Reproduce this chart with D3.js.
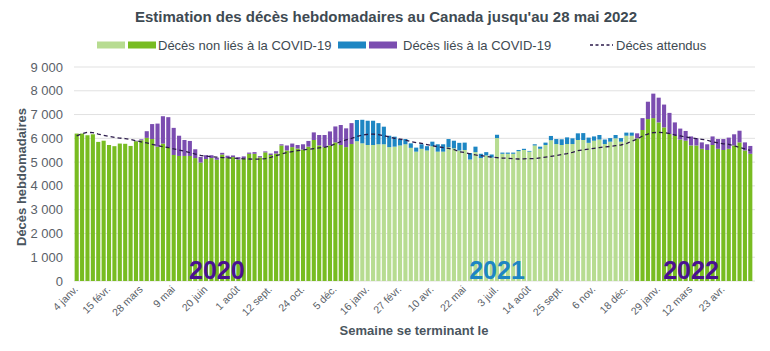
<!DOCTYPE html>
<html>
<head>
<meta charset="utf-8">
<script src="https://cdn.jsdelivr.net/npm/d3@7"></script>
<style>
  body { margin: 0; background: #fff; }
  text { font-family: "Liberation Sans", Arial, sans-serif; }
</style>
</head>
<body>
<div id="chart"></div>
<script>
// weekly deaths, first week ending 4 Jan 2020, last week ending 28 May 2022
const nonCovid = [
  6200, 6200, 6130, 6170, 5850, 5900, 5720, 5670, 5780, 5770, 5680, 5880, 5920, 6020, 5970, 5650,
  5780, 5600, 5300, 5260, 5260, 5260, 5170, 4980, 5130, 5170, 5100, 5320, 5170, 5210, 5110, 5160,
  5350, 5350, 5200, 5410, 5300, 5360, 5700, 5490, 5630, 5570, 5530, 5650, 5930, 5700, 5630, 5700,
  5830, 5720, 5630, 5760, 5880, 5790, 5720, 5720, 5750, 5750, 5630, 5650, 5700, 5750, 5600, 5440,
  5560, 5490, 5670, 5440, 5440, 5630, 5580, 5490, 5510, 5110, 5420, 5170, 5280, 5190, 6010, 5350,
  5350, 5350, 5460, 5510, 5440, 5700, 5560, 5720, 5920, 5760, 5720, 5760, 5760, 5930, 5930, 5810,
  5900, 5950, 5760, 5860, 6000, 5860, 6110, 6110, 6000, 6350, 6810, 6850, 6670, 6460, 6180, 6110,
  5950, 5900, 5700, 5700, 5560, 5510, 5720, 5560, 5510, 5560, 5700, 5830, 5490, 5350
];
const covid = [
  0, 0, 0, 0, 0, 0, 0, 0, 0, 0, 0, 20, 40, 280, 630, 970,
  1150, 1290, 1140, 850, 670, 630, 370, 240, 160, 120, 90, 70, 100, 70, 100, 80,
  50, 70, 50, 40, 60, 100, 50, 210, 150, 150, 220, 240, 320, 440, 510, 590,
  670, 840, 790, 880, 890, 990, 1020, 1020, 890, 740, 480, 420, 270, 220, 190, 170,
  190, 180, 190, 310, 310, 340, 320, 320, 310, 270, 230, 180, 140, 130, 140, 50,
  50, 50, 50, 50, 30, 50, 90, 100, 180, 210, 240, 280, 240, 280, 290, 220,
  180, 190, 190, 150, 140, 150, 130, 130, 210, 500, 730, 1030, 1040, 960, 890, 560,
  460, 410, 380, 300, 270, 240, 360, 410, 460, 470, 470, 490, 340, 330
];
const expected = [
  6100, 6200, 6250, 6240, 6180, 6130, 6080, 6040, 6010, 5990, 5950, 5900, 5850, 5810, 5750, 5690,
  5650, 5610, 5560, 5510, 5460, 5400, 5340, 5280, 5250, 5230, 5210, 5190, 5180, 5170, 5150, 5140,
  5130, 5120, 5130, 5150, 5200, 5270, 5340, 5400, 5440, 5480, 5510, 5540, 5570, 5600, 5620, 5680,
  5770, 5860, 5940, 6000, 6080, 6140, 6170, 6180, 6160, 6110, 6060, 6000, 5970, 5930, 5860, 5820,
  5790, 5740, 5690, 5650, 5610, 5580, 5530, 5440, 5400, 5350, 5300, 5270, 5240, 5210, 5190, 5170,
  5160, 5140, 5130, 5140, 5150, 5150, 5180, 5210, 5240, 5280, 5320, 5360, 5410, 5480, 5520, 5550,
  5580, 5610, 5640, 5660, 5690, 5720, 5780, 5880, 5970, 6100, 6180, 6240, 6250, 6240, 6200, 6140,
  6100, 6060, 6020, 5990, 5960, 5920, 5850, 5810, 5770, 5750, 5690, 5610, 5560, 5490
];
const tickLabels = [
  "4 janv.", "15 févr.", "28 mars", "9 mai", "20 juin", "1 août", "12 sept.", "24 oct.", "5 déc.",
  "16 janv.", "27 févr.", "10 avr.", "22 mai", "3 juil.", "14 août", "25 sept.", "6 nov.", "18 déc.",
  "29 janv.", "12 mars", "23 avr."
];
const yTicks = [0, 1000, 2000, 3000, 4000, 5000, 6000, 7000, 8000, 9000];
const years = [2020, 2021, 2022];

const firstWeek = new Date(2020, 0, 4);
const weeks = nonCovid.map((d, i) => d3.timeDay.offset(firstWeek, 7 * i));

const colors = {
  2020: {base: "#78bc21", covid: "#7b4db0", label: "#4a1190"},
  2021: {base: "#b7dc91", covid: "#1d86c3", label: "#1d86c3"},
  2022: {base: "#78bc21", covid: "#7b4db0", label: "#4a1190"}
};

const width = 770, height = 351;
const margin = {top: 67, right: 17, bottom: 70, left: 74};

const svg = d3.select("#chart")
  .append("svg")
    .attr("width", width)
    .attr("height", height);

const x = d3.scaleBand()
  .domain(d3.range(weeks.length))
  .range([margin.left, width - margin.right])
  .paddingInner(0.24)
  .paddingOuter(0.12);

const y = d3.scaleLinear()
  .domain([0, 9000])
  .range([height - margin.bottom, margin.top]);

const fmt = v => d3.format(",")(v).replace(/,/g, "\u202f");

// grid + y labels
svg.append("g")
  .selectAll("line")
  .data(yTicks)
  .join("line")
    .attr("x1", margin.left)
    .attr("x2", width - margin.right + 2)
    .attr("y1", d => y(d))
    .attr("y2", d => y(d))
    .style("stroke", "#e1e1e1")
    .style("stroke-width", 1);

svg.append("g")
  .selectAll("text")
  .data(yTicks)
  .join("text")
    .attr("x", 63)
    .attr("y", d => y(d))
    .attr("dy", "0.35em")
    .style("text-anchor", "end")
    .style("font-size", "13px")
    .style("fill", "#5a6168")
    .text(d => d === 0 ? "0" : fmt(d).replace("\u202f", " "));

// bars
const bars = svg.append("g");
bars.selectAll(".base")
  .data(weeks)
  .join("rect")
    .attr("class", "base")
    .attr("x", (d, i) => x(i))
    .attr("width", x.bandwidth())
    .attr("y", (d, i) => y(nonCovid[i]))
    .attr("height", (d, i) => y(0) - y(nonCovid[i]))
    .attr("fill", d => colors[d.getFullYear()].base);

bars.selectAll(".covid")
  .data(weeks)
  .join("rect")
    .attr("class", "covid")
    .attr("x", (d, i) => x(i))
    .attr("width", x.bandwidth())
    .attr("y", (d, i) => y(nonCovid[i] + covid[i]))
    .attr("height", (d, i) => y(nonCovid[i]) - y(nonCovid[i] + covid[i]))
    .attr("fill", d => colors[d.getFullYear()].covid);

// expected deaths
const line = d3.line()
  .x((d, i) => x(i) + x.bandwidth() / 2)
  .y(d => y(d));

svg.append("path")
  .datum(expected)
  .attr("d", line)
  .style("fill", "none")
  .style("stroke", "#2b1a4a")
  .style("stroke-width", 1.3)
  .style("stroke-dasharray", "4,3");

// year labels, centred on a week of each year
const yearAnchor = {2020: 26, 2021: 78, 2022: 114};
svg.append("g")
  .selectAll("text")
  .data(years)
  .join("text")
    .attr("x", d => x(yearAnchor[d]) + x.bandwidth() / 2)
    .attr("y", y(0) - 2)
    .style("text-anchor", "middle")
    .style("font-size", "25px")
    .style("font-weight", 700)
    .style("fill", d => colors[d].label)
    .text(d => d);

// x tick labels every 6 weeks
svg.append("g")
  .selectAll("text")
  .data(tickLabels)
  .join("text")
    .attr("transform", (d, i) => `translate(${x(i * 6) + x.bandwidth() / 2 + 2},${y(0) + 9}) rotate(-45)`)
    .style("text-anchor", "end")
    .style("font-size", "10.5px")
    .style("fill", "#5a6168")
    .text(d => d);

// titles
svg.append("text")
  .attr("x", 386)
  .attr("y", 22)
  .style("text-anchor", "middle")
  .style("font-size", "15px")
  .style("font-weight", 700)
  .style("fill", "#3e4a52")
  .text("Estimation des décès hebdomadaires au Canada jusqu'au 28 mai 2022");

svg.append("text")
  .attr("transform", `translate(26,${(y(0) + y(9000)) / 2 + 3}) rotate(-90)`)
  .style("text-anchor", "middle")
  .style("font-size", "13px")
  .style("font-weight", 700)
  .style("fill", "#4a555e")
  .text("Décès hebdomadaires");

svg.append("text")
  .attr("x", 414)
  .attr("y", 335)
  .style("text-anchor", "middle")
  .style("font-size", "13px")
  .style("font-weight", 700)
  .style("fill", "#4a555e")
  .text("Semaine se terminant le");

// legend
const legend = svg.append("g").attr("transform", "translate(0,45)");
const swatches = [
  {x: 97, c: colors[2021].base}, {x: 128, c: colors[2020].base},
  {x: 338, c: colors[2021].covid}, {x: 369, c: colors[2020].covid}
];
legend.selectAll("rect")
  .data(swatches)
  .join("rect")
    .attr("x", d => d.x)
    .attr("y", -3.5)
    .attr("width", 28)
    .attr("height", 7)
    .attr("fill", d => d.c);

legend.append("line")
  .attr("x1", 590).attr("x2", 613)
  .attr("y1", 0).attr("y2", 0)
  .style("stroke", "#2b1a4a")
  .style("stroke-width", 1.3)
  .style("stroke-dasharray", "3,2.5");

const legendText = [
  {x: 158, t: "Décès non liés à la COVID-19"},
  {x: 403, t: "Décès liés à la COVID-19"},
  {x: 616, t: "Décès attendus"}
];
legend.selectAll("text")
  .data(legendText)
  .join("text")
    .attr("x", d => d.x)
    .attr("dy", "0.35em")
    .style("font-size", "13px")
    .style("fill", "#3e4a52")
    .text(d => d.t);
</script>
</body>
</html>
